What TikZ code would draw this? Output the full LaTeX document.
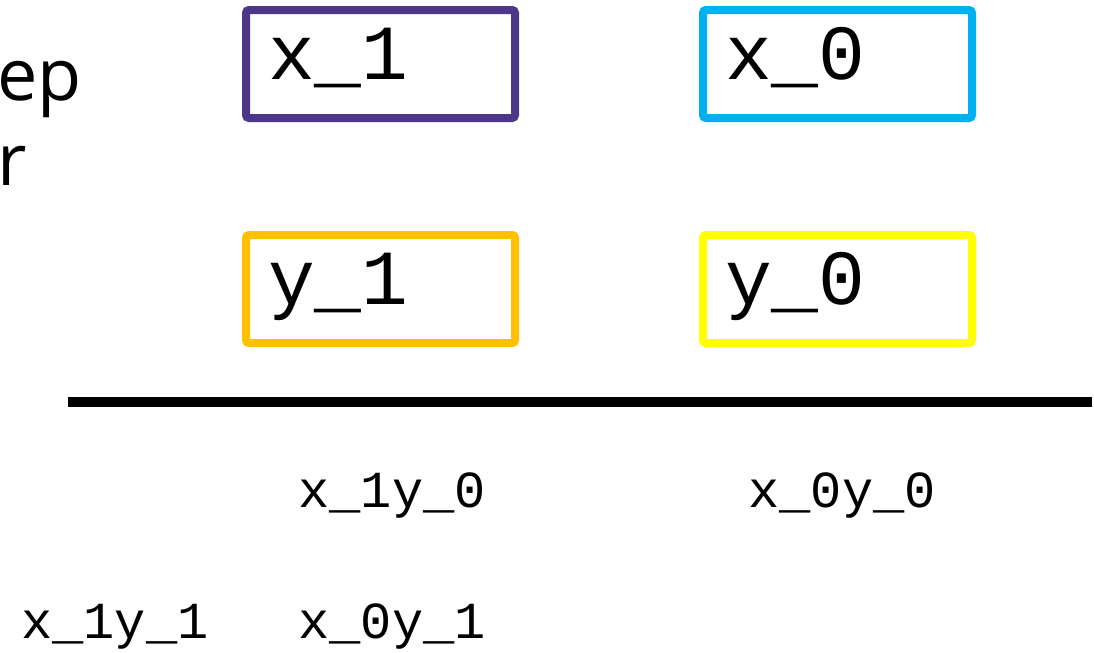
\documentclass[tikz,border=0pt]{standalone}
\usepackage{fontspec}
\setmonofont{Liberation Mono}
\newfontfamily\stepfont{Open Sans}
\usetikzlibrary{positioning}
\definecolor{xonecolor}{RGB}{75,54,135}
\definecolor{xzerocolor}{RGB}{0,176,240}
\definecolor{yonecolor}{RGB}{255,192,0}
\definecolor{yzerocolor}{RGB}{255,255,0}

\tikzset{
  regbox/.style={draw, line width=4pt, rounded corners=1.5pt,
    minimum width=134.5pt, minimum height=54pt, inner xsep=11pt,
    text width=112.5pt, align=left, text height=26pt, text depth=11pt,
    font=\fontsize{39}{39}\selectfont\ttfamily},
  prodlabel/.style={anchor=base west, inner sep=0pt,
    font=\fontsize{26}{26}\selectfont\ttfamily}
}

\begin{document}
\begin{tikzpicture}[x=0.5pt,y=-0.5pt]
  \useasboundingbox (0,0) rectangle (1094,653);
  % cut-off label on the left
  \node[anchor=base west, inner sep=0pt, align=left,
        font=\fontsize{36}{42.5}\selectfont\stepfont] (step) at (-3,185) {ep\\r};
  % operand registers
  \node[regbox, xonecolor] (x1) at (380.5,64) {\color{black}x\_1};
  \node[regbox, xzerocolor] (x0) at (837.5,64) {\color{black}x\_0};
  \node[regbox, yonecolor] (y1) at (380.5,289) {\color{black}y\_1};
  \node[regbox, yzerocolor] (y0) at (837.5,289) {\color{black}y\_0};
  % rule
  \coordinate (rule west) at (68,402);
  \coordinate (rule east) at (1092,402);
  \draw[line width=5pt] (rule west) -- (rule east);
  % partial products
  \node[prodlabel] (x1y0) at (298,507) {x\_1y\_0};
  \node[prodlabel] (x0y0) at (748,507) {x\_0y\_0};
  \node[prodlabel] (x1y1) at (21,638) {x\_1y\_1};
  \node[prodlabel] (x0y1) at (298,638) {x\_0y\_1};
\end{tikzpicture}
\end{document}
